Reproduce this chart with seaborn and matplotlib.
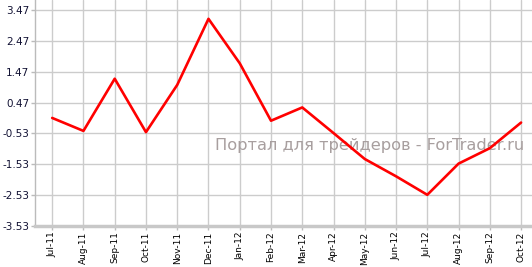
import matplotlib
matplotlib.use("Agg")
import matplotlib.pyplot as plt
import seaborn as sns
import pandas as pd

months = ["Jul-11", "Aug-11", "Sep-11", "Oct-11", "Nov-11", "Dec-11", "Jan-12", "Feb-12",
          "Mar-12", "Apr-12", "May-12", "Jun-12", "Jul-12", "Aug-12", "Sep-12", "Oct-12"]
values = [-0.03, -0.45, 1.24, -0.49, 1.04, 3.18, 1.74, -0.12,
          0.31, -0.52, -1.36, -1.92, -2.52, -1.51, -1.01, -0.18]
yticks = [-3.53, -2.53, -1.53, -0.53, 0.47, 1.47, 2.47, 3.47]
watermark = "Портал для трейдеров - ForTrader.ru"

sns.set_theme(style="white")
plt.rcParams['font.family'] = ['DejaVu Sans']

df = pd.DataFrame({"month": months, "value": values})
df["pos"] = range(len(months))

fig = plt.figure(figsize=(5.32, 2.67), dpi=100)
ax = fig.add_axes([35/532, 1 - 226/267, (532 - 35)/532, 226/267])

ax.text(0.985, 0.358, watermark, transform=ax.transAxes, ha="right", va="center",
        fontsize=11.7, color="#a89f9f", zorder=1)
sns.lineplot(data=df, x="pos", y="value", color="#ff0000", linewidth=1.9, ax=ax, zorder=3)

ax.set_xlim(-0.55, len(months) - 1 + 0.35)
ax.set_ylim(-3.53, 3.79)
ax.set_xticks(df["pos"])
ax.set_xticklabels(months, rotation=90, fontsize=6.5, color="black")
ax.set_yticks(yticks)
ax.set_yticklabels([f"{v:.2f}" for v in yticks], fontsize=7.5, color="#111133")
ax.set_xlabel("")
ax.set_ylabel("")

ax.grid(True, color="#cccccc", linewidth=1.0, zorder=0)
ax.set_axisbelow(True)
for s in ["top", "right"]:
    ax.spines[s].set_visible(False)
ax.spines["left"].set_color("#bbbbbb")
ax.spines["left"].set_linewidth(1.0)
ax.spines["bottom"].set_color("#c8c8c8")
ax.spines["bottom"].set_linewidth(2.5)
ax.tick_params(axis="both", which="both", length=3, width=1, color="#bbbbbb",
               direction="out", pad=1, bottom=True, left=True)

fig.savefig("out.png", dpi=100)
